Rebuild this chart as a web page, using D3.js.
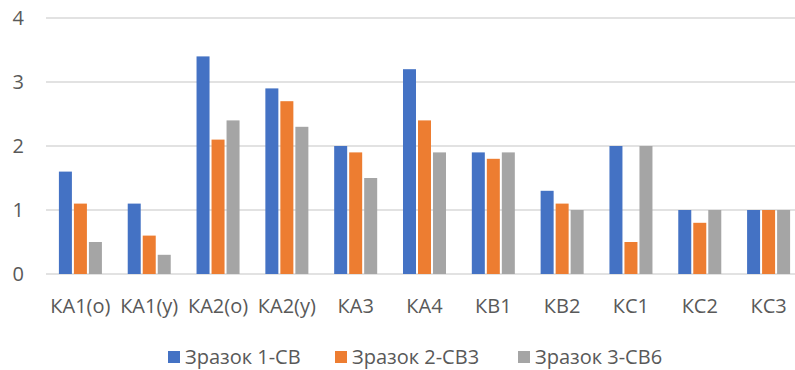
<!DOCTYPE html>
<html>
<head>
<meta charset="utf-8">
<script src="https://cdn.jsdelivr.net/npm/d3@7"></script>
<style>
  html, body { margin: 0; padding: 0; background: #fff; }
  svg { display: block; }
  text { font-family: "Open Sans", "Noto Sans", sans-serif; fill: #595959; }
</style>
</head>
<body>
<div id="chart"></div>
<script>
// Categories along the x axis
const categories = ["КА1(о)", "КА1(у)", "КА2(о)", "КА2(у)", "КА3", "КА4", "КВ1", "КВ2", "КС1", "КС2", "КС3"];

// Series names
const seriesNames = ["Зразок 1-СВ", "Зразок 2-СВ3", "Зразок 3-СВ6"];

// Values per series, one per category
const series1 = [1.6, 1.1, 3.4, 2.9, 2.0, 3.2, 1.9, 1.3, 2.0, 1.0, 1.0];
const series2 = [1.1, 0.6, 2.1, 2.7, 1.9, 2.4, 1.8, 1.1, 0.5, 0.8, 1.0];
const series3 = [0.5, 0.3, 2.4, 2.3, 1.5, 1.9, 1.9, 1.0, 2.0, 1.0, 1.0];

// Y axis ticks
const yTicks = [0, 1, 2, 3, 4];

const colors = ["#4472C4", "#ED7D31", "#A5A5A5"];
const seriesValues = [series1, series2, series3];

const width = 795, height = 370;
const plotLeft = 46, plotRight = 803, plotTop = 18, plotBottom = 274;

const svg = d3.select("#chart").append("svg")
  .attr("width", width)
  .attr("height", height);

const y = d3.scaleLinear().domain([0, 4]).range([plotBottom, plotTop]);

const x0 = d3.scaleBand()
  .domain(categories)
  .range([plotLeft, plotRight])
  .paddingInner(0.375)
  .paddingOuter(0.1875);

const x1 = d3.scaleBand()
  .domain(d3.range(seriesNames.length))
  .range([0, x0.bandwidth()])
  .paddingInner(2 / 15)
  .paddingOuter(0);

// Horizontal gridlines
svg.append("g")
  .selectAll("line")
  .data(yTicks)
  .join("line")
  .attr("x1", plotLeft)
  .attr("x2", width)
  .attr("y1", d => y(d))
  .attr("y2", d => y(d))
  .attr("stroke", "#d9d9d9")
  .attr("stroke-width", 1.5);

// Y axis labels
svg.append("g")
  .selectAll("text")
  .data(yTicks)
  .join("text")
  .attr("x", 24)
  .attr("y", d => y(d))
  .attr("dy", "0.36em")
  .attr("text-anchor", "end")
  .attr("font-size", 20)
  .text(d => d);

// Bars
const groups = svg.append("g")
  .selectAll("g")
  .data(categories)
  .join("g")
  .attr("transform", d => `translate(${x0(d)},0)`);

groups.selectAll("rect")
  .data((d, i) => seriesValues.map((vals, s) => ({ s, v: vals[i] })))
  .join("rect")
  .attr("x", d => x1(d.s))
  .attr("width", x1.bandwidth())
  .attr("y", d => y(d.v))
  .attr("height", d => y(0) - y(d.v))
  .attr("fill", d => colors[d.s]);

// Category labels
svg.append("g")
  .selectAll("text")
  .data(categories)
  .join("text")
  .attr("x", d => x0(d) + x0.bandwidth() / 2)
  .attr("y", 313)
  .attr("text-anchor", "middle")
  .attr("font-size", 20)
  .text(d => d);

// Legend
const legendX = [168, 335, 518];
const legend = svg.append("g")
  .selectAll("g")
  .data(seriesNames)
  .join("g")
  .attr("transform", (d, i) => `translate(${legendX[i]},351)`);

legend.append("rect")
  .attr("width", 12)
  .attr("height", 12)
  .attr("fill", (d, i) => colors[i]);

legend.append("text")
  .attr("x", 17)
  .attr("y", 12.5)
  .attr("font-size", 20)
  .text(d => d);
</script>
</body>
</html>
